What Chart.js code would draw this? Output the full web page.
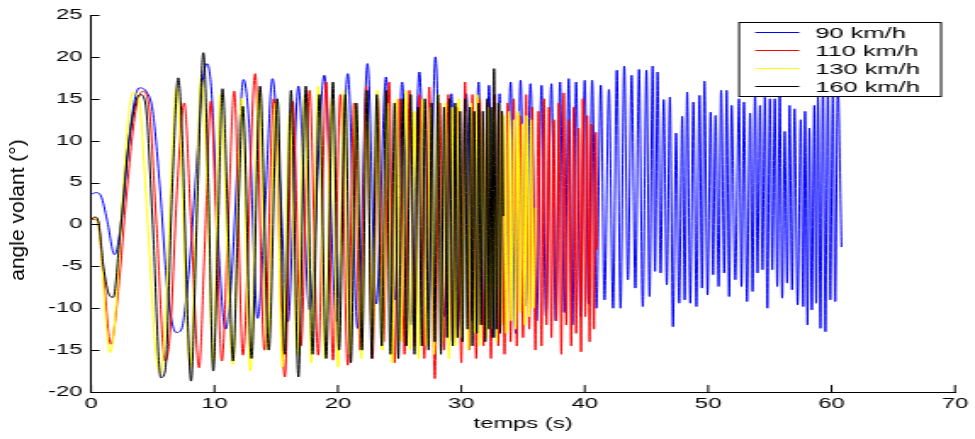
<!DOCTYPE html>
<html>
<head>
<meta charset="utf-8">
<script src="https://cdn.jsdelivr.net/npm/chart.js@4.4.0/dist/chart.umd.min.js"></script>
<style>
  html, body { margin: 0; padding: 0; background: #fff; overflow: hidden; }
  #wrap { position: absolute; left: 0; top: 0; width: 574px; height: 439px;
          transform: scaleX(1.6986); transform-origin: 0 0; }
  #ytitle { position: absolute; left: 17px; top: 210px; white-space: nowrap;
            font: 21px 'Liberation Sans', Arial, sans-serif; color: #000;
            transform: translate(-50%, -50%) rotate(-90deg); }
</style>
</head>
<body>
<div id="wrap"><canvas id="chart"></canvas></div>
<div id="ytitle">angle volant (°)</div>
<script>
// series labels and colours
const seriesLabels = ['90 km/h', '110 km/h', '130 km/h', '160 km/h'];
const seriesColors = ['#0000ff', '#ff0000', '#ffff00', '#000000'];

// 90 km/h : time (s) and steering angle (deg), read at turning points
const t90 = [0, 0.4, 0.8, 1.3, 1.9, 2.5, 3.1, 3.9, 4.5, 5.0, 5.6, 6.2, 6.9, 7.3, 7.9, 8.5, 9.0, 9.4, 9.8, 10.3,
  10.9, 11.4, 11.9, 12.35, 12.8, 13.5, 14.1, 14.7, 15.3, 15.95, 16.8, 17.7, 18.9, 19.9, 20.8, 21.6, 22.4, 23.1, 23.9, 24.6,
  25.2, 25.9, 26.6, 27.3, 27.9, 28.6, 29.2, 29.7, 30.4, 30.9, 31.4, 31.8, 32.25, 32.7, 33.1, 33.5, 34.0, 34.4, 34.8, 35.2,
  35.6, 36.1, 36.5, 36.85, 37.3, 37.65, 38.0, 38.35, 38.7, 39.0, 39.3, 39.65, 40.0, 40.3, 40.6, 40.95, 41.3, 41.6, 41.96, 42.3,
  42.6, 42.9, 43.2, 43.5, 43.8, 44.1, 44.4, 44.7, 45.0, 45.25, 45.5, 45.7, 45.9, 46.15, 46.4, 46.65, 46.9, 47.15, 47.4, 47.65,
  47.9, 48.1, 48.3, 48.55, 48.8, 49.05, 49.3, 49.5, 49.7, 49.95, 50.2, 50.4, 50.6, 50.85, 51.05, 51.3, 51.5, 51.7, 51.9, 52.2,
  52.5, 52.7, 52.9, 53.15, 53.4, 53.6, 53.8, 54.0, 54.2, 54.4, 54.6, 54.8, 55.0, 55.2, 55.4, 55.6, 55.8, 56.0, 56.2, 56.4,
  56.6, 56.8, 57.0, 57.25, 57.5, 57.7, 57.85, 58.05, 58.2, 58.4, 58.6, 58.75, 58.9, 59.1, 59.3, 59.5, 59.7, 59.9, 60.1, 60.3,
  60.5, 60.8];
const v90 = [3.6, 3.8, 3.4, 0.5, -3.6, 1.0, 10.5, 16.3, 15.8, 13.5, 4.0, -8.0, -12.9, -12.6, -6.0, 6.0, 16.5, 19.2, 15.0, -2.0,
  -12.5, -6.0, 8.0, 17.3, 12.0, -11.2, 2.0, 17.4, 5.0, -11.6, 16.5, -10.2, 17.8, -11.6, 18.0, -12.4, 19.2, -9.5, 17.6, -9.0,
  17.0, -12.0, 18.2, -10.5, 20.0, -11.0, 15.6, -12.5, 15.6, -11.5, 17.0, -12.0, 16.6, -13.5, 15.6, -12.0, 17.0, -13.0, 17.2, -9.7,
  16.8, -11.5, 16.6, -10.9, 16.8, -11.5, 17.0, -10.5, 17.4, -12.0, 17.0, -11.0, 17.2, -9.5, 17.2, -10.0, 16.6, -9.0, 16.1, -10.0,
  18.4, -10.0, 18.9, -6.6, 17.8, -7.6, 18.5, -9.8, 18.4, -8.6, 18.9, -5.6, 18.2, -5.8, 14.9, -7.2, 15.2, -12.2, 10.9, -9.4,
  12.9, -9.0, 15.8, -9.4, 14.6, -9.8, 15.4, -7.6, 17.1, -8.4, 13.4, -6.0, 13.0, -7.4, 16.0, -5.8, 16.0, -8.6, 14.2, -6.6,
  15.0, -7.4, 14.6, -9.2, 13.3, -8.0, 15.6, -5.8, 14.2, -5.4, 15.2, -10.0, 15.0, -5.4, 15.0, -7.4, 15.6, -8.8, 11.1, -7.0,
  14.2, -7.8, 13.8, -9.6, 12.5, -9.8, 13.5, -12.0, 11.5, -10.2, 14.2, -9.4, 15.2, -12.4, 16.8, -12.8, 16.0, -9.0, 15.5, -9.2,
  16.5, -2.7];

// 110 km/h
const t110 = [0, 0.5, 1.0, 1.6, 2.2, 2.9, 3.6, 4.2, 4.7, 5.3, 6.0, 6.4, 7.0, 7.55, 8.1, 8.75, 9.2, 9.7, 10.1, 10.6,
  11.1, 11.6, 12.3, 13.3, 14.05, 14.8, 15.7, 16.35, 17.0, 17.7, 18.4, 19.05, 19.6, 20.2, 20.8, 21.3, 21.8, 22.3, 22.8, 23.25,
  23.7, 24.15, 24.6, 25.0, 25.4, 25.8, 26.2, 26.6, 27.0, 27.4, 27.85, 28.25, 28.6, 28.95, 29.3, 29.65, 30.0, 30.3, 30.6, 30.9,
  31.2, 31.5, 31.8, 32.1, 32.4, 32.7, 33.0, 33.25, 33.5, 33.75, 34.0, 34.25, 34.5, 34.75, 35.0, 35.25, 35.5, 35.75, 36.0, 36.25,
  36.5, 36.7, 36.9, 37.1, 37.3, 37.5, 37.7, 37.9, 38.1, 38.3, 38.5, 38.7, 38.9, 39.1, 39.3, 39.5, 39.7, 39.85, 40.05, 40.2,
  40.4, 40.55, 40.75, 40.9, 41.0];
const v110 = [0.6, 0.5, -6.0, -14.3, -8.0, 4.0, 13.5, 15.9, 14.0, 0.0, -16.3, -13.0, 5.0, 14.5, 0.0, -17.1, -3.0, 14.7, 2.0, -16.3,
  0.0, 15.9, -15.6, 18.0, -15.0, 15.0, -18.2, 14.7, -14.5, 16.0, -15.6, 17.0, -16.2, 15.5, -16.8, 14.5, -15.0, 16.5, -16.0, 15.1,
  -14.0, 17.0, -16.5, 15.0, -15.5, 16.0, -14.5, 15.5, -16.0, 16.4, -18.4, 14.5, -15.0, 15.5, -14.0, 14.0, -16.5, 17.0, -15.0, 15.5,
  -16.0, 15.0, -14.5, 14.5, -16.0, 15.5, -14.5, 13.5, -15.5, 14.5, -14.0, 15.0, -14.5, 13.0, -13.5, 15.5, -12.5, 14.0, -15.0, 13.5,
  -14.5, 15.0, -12.0, 14.0, -13.5, 12.5, -11.5, 14.5, -15.5, 15.7, -12.0, 12.5, -14.5, 14.0, -13.0, 11.5, -15.2, 15.0, -11.0, 13.0,
  -14.0, 12.0, -12.5, 11.0, -3.0];

// 130 km/h
const t130 = [0, 0.4, 0.8, 1.2, 1.55, 1.9, 2.5, 3.0, 3.45, 3.9, 4.6, 5.2, 5.6, 6.0, 6.5, 6.9, 7.3, 7.7, 8.05, 8.5,
  8.9, 9.4, 9.9, 10.45, 11.5, 12.2, 12.9, 13.6, 14.3, 14.95, 15.5, 16.1, 16.7, 17.3, 17.85, 18.4, 18.95, 19.5, 20.0, 20.5,
  20.95, 21.45, 21.9, 22.35, 22.8, 23.2, 23.6, 24.0, 24.4, 24.75, 25.1, 25.5, 25.85, 26.2, 26.55, 26.85, 27.2, 27.5, 27.8, 28.1,
  28.4, 28.7, 29.0, 29.25, 29.5, 29.8, 30.05, 30.3, 30.55, 30.8, 31.05, 31.3, 31.5, 31.75, 32.0, 32.2, 32.45, 32.65, 32.85, 33.05,
  33.25, 33.45, 33.65, 33.85, 34.05, 34.25, 34.4, 34.6, 34.8, 34.95, 35.15, 35.3, 35.5, 35.65, 35.85, 36.0];
const v130 = [0.5, 0.8, -3.0, -11.5, -15.3, -12.0, 2.0, 12.5, 15.8, 14.5, 0.0, -14.5, -17.7, -12.0, 6.0, 16.3, 8.0, -10.0, -17.0, 0.0,
  17.5, 5.0, -16.5, 15.5, -16.7, 15.1, -17.5, 16.0, -15.0, 14.5, -17.0, 13.5, -15.5, 15.5, -16.5, 16.5, -16.0, 15.0, -17.0, 16.0,
  -15.5, 14.5, -16.0, 15.5, -14.5, 16.0, -15.0, 14.5, -16.5, 15.0, -14.0, 16.0, -15.0, 13.5, -16.0, 15.0, -14.5, 14.0, -15.5, 15.5,
  -14.0, 14.5, -16.0, 14.0, -14.5, 15.0, -13.5, 13.5, -15.0, 14.5, -13.0, 15.5, -14.5, 13.0, -13.5, 14.0, -12.5, 13.5, -14.0, 14.5,
  -12.0, 13.0, -13.0, 13.5, -11.5, 12.5, -12.5, 13.5, -10.5, 12.0, -12.0, 13.0, -11.0, 12.5, -10.0, 2.0];

// 160 km/h
const t160 = [0, 0.3, 0.6, 1.0, 1.5, 1.8, 2.3, 3.0, 3.6, 4.0, 4.4, 5.0, 5.65, 6.0, 6.6, 7.06, 7.4, 7.8, 8.1, 8.6,
  9.1, 9.5, 9.9, 10.3, 10.65, 11.1, 11.5, 11.9, 12.3, 13.0, 13.7, 14.4, 15.1, 15.7, 16.2, 16.8, 17.4, 17.95, 18.5, 19.05,
  19.6, 20.1, 20.6, 21.05, 21.5, 21.95, 22.35, 22.75, 23.15, 23.55, 23.9, 24.25, 24.6, 24.9, 25.25, 25.55, 25.9, 26.2, 26.5, 26.8,
  27.05, 27.35, 27.6, 27.85, 28.1, 28.35, 28.6, 28.85, 29.05, 29.3, 29.5, 29.7, 29.9, 30.1, 30.3, 30.5, 30.7, 30.9, 31.05, 31.25,
  31.4, 31.6, 31.75, 31.95, 32.1, 32.25, 32.4, 32.55, 32.65, 32.85, 33.0, 33.15, 33.3, 33.4];
const v160 = [0.5, 0.9, 0.3, -5.0, -8.5, -8.7, -2.0, 9.0, 14.5, 15.5, 14.5, 0.0, -18.3, -17.5, 5.0, 17.5, 10.0, -10.0, -18.7, 2.0,
  20.5, 5.0, -17.5, 0.0, 16.2, 0.0, -16.3, 0.0, 14.1, -16.0, 16.5, -15.0, 15.0, -15.5, 16.0, -18.2, 16.5, -15.5, 15.5, -16.0,
  17.0, -15.0, 15.5, -16.5, 14.5, -15.0, 16.0, -16.0, 15.5, -14.5, 16.0, -15.5, 14.5, -16.0, 15.0, -14.5, 15.5, -15.5, 14.0, -14.5,
  15.0, -15.0, 14.5, -14.0, 15.5, -15.5, 14.0, -13.5, 15.0, -14.5, 14.5, -13.5, 13.5, -14.0, 15.0, -12.5, 14.0, -14.5, 13.5, -13.0,
  14.5, -12.0, 13.5, -14.0, 15.0, -12.5, 14.0, -13.5, 18.6, -12.5, 14.5, -13.0, 13.5, 1.0];

// tick settings
const xTicks = { min: 0, max: 70, step: 10 };
const yTicks = { min: -20, max: 25, step: 5 };

const allT = [t90, t110, t130, t160];
const allV = [v90, v110, v130, v160];
const FONT = "'Liberation Sans', Arial, Helvetica, sans-serif";

// matlab style: ticks pointing into the plot, legend box top right
const matlabLook = {
  id: 'matlabLook',
  afterDraw(chart) {
    const { ctx, chartArea, scales } = chart;
    ctx.save();
    ctx.strokeStyle = '#000';
    ctx.lineWidth = 1;
    ctx.beginPath();
    scales.x.ticks.forEach(tk => {
      const px = scales.x.getPixelForValue(tk.value);
      ctx.moveTo(px, chartArea.bottom);
      ctx.lineTo(px, chartArea.bottom - 7);
    });
    scales.y.ticks.forEach(tk => {
      const py = Math.round(scales.y.getPixelForValue(tk.value)) + 0.5;
      ctx.moveTo(chartArea.left, py);
      ctx.lineTo(chartArea.left + 5, py);
    });
    ctx.stroke();

    // legend
    const bw = 118.9, bh = 74;
    const bx = chartArea.right - 8.2 - bw, by = 22;
    ctx.fillStyle = '#fff';
    ctx.fillRect(bx, by, bw, bh);
    ctx.strokeRect(bx, by + 0.5, bw, bh);
    ctx.font = '15px ' + FONT;
    ctx.textBaseline = 'middle';
    ctx.textAlign = 'left';
    chart.data.datasets.forEach((ds, i) => {
      const ry = Math.round(by + 9.7 + i * 18) + 0.5;
      ctx.strokeStyle = ds.borderColor;
      ctx.beginPath();
      ctx.moveTo(bx + 9.5, ry);
      ctx.lineTo(bx + 35.4, ry);
      ctx.stroke();
      ctx.fillStyle = '#000';
      ctx.fillText(ds.label, bx + 44.8, ry + 1);
    });
    ctx.restore();
  }
};

const ctx = document.getElementById('chart').getContext('2d');
new Chart(ctx, {
  type: 'line',
  data: {
    datasets: seriesLabels.map((label, i) => ({
      label: label,
      data: allT[i].map((t, k) => ({ x: t, y: allV[i][k] })),
      borderColor: seriesColors[i],
      backgroundColor: seriesColors[i],
      borderWidth: 1,
      pointRadius: 0,
      fill: false,
      cubicInterpolationMode: 'monotone',
      order: seriesLabels.length - i // 160 km/h drawn on top
    }))
  },
  options: {
    responsive: true,
    maintainAspectRatio: false,
    animation: false,
    layout: { padding: { top: 15, right: 10.6, left: 0, bottom: 0 } },
    plugins: { legend: { display: false }, tooltip: { enabled: false } },
    scales: {
      x: {
        type: 'linear',
        min: xTicks.min,
        max: xTicks.max,
        ticks: { stepSize: xTicks.step, color: '#000', font: { family: FONT, size: 14 }, padding: 4, maxRotation: 0 },
        grid: { display: false, drawTicks: false },
        border: { display: true, color: '#000', width: 1 },
        title: { display: true, text: 'temps (s)', color: '#000', font: { family: FONT, size: 14 }, padding: { top: 0, bottom: 6 } },
        afterFit: s => { s.height = 47; }
      },
      y: {
        min: yTicks.min,
        max: yTicks.max,
        ticks: { stepSize: yTicks.step, color: '#000', font: { family: FONT, size: 14 }, padding: 5 },
        grid: { display: false, drawTicks: false },
        border: { display: true, color: '#000', width: 1 },
        afterFit: s => { s.width = 53.6; }
      }
    }
  },
  plugins: [matlabLook]
});
</script>
</body>
</html>
